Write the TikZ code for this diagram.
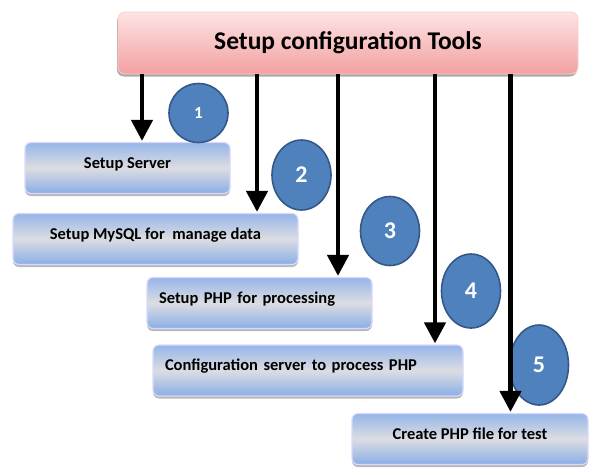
\documentclass[tikz,border=0pt]{standalone}
\usepackage{fontspec}
\setmainfont{Carlito}
\usetikzlibrary{arrows.meta,shapes.geometric,shadows}
\definecolor{boxtop}{RGB}{150,182,232}
\definecolor{boxmid}{RGB}{220,221,226}
\definecolor{boxbot}{RGB}{138,174,230}
\definecolor{tooltop}{RGB}{253,228,228}
\definecolor{toolbot}{RGB}{243,160,160}
\definecolor{numfill}{RGB}{79,129,189}
\definecolor{numedge}{RGB}{52,88,135}

\begin{document}
\begin{tikzpicture}[x=1pt,y=-1pt,
    toolbox/.style={rounded corners=7pt,draw=white!80!red,line width=.8pt,
      top color=tooltop,bottom color=toolbot,minimum width=460pt,minimum height=62pt,
      font=\bfseries\fontsize{25.5}{28}\selectfont,
      drop shadow={shadow xshift=-1pt,shadow yshift=-2.5pt,opacity=.55,fill=black!60}},
    stepbox/.style={rounded corners=6pt,draw=white!85!blue,line width=1.2pt,
      top color=boxtop,bottom color=boxbot,middle color=boxmid,
      minimum height=51pt,text height=12pt,text depth=12pt,
      font=\bfseries\fontsize{16.5}{19}\selectfont,
      drop shadow={shadow xshift=0pt,shadow yshift=-2.5pt,opacity=.5,fill=black!55}},
    leftbox/.style={stepbox,align=left,inner xsep=12pt},
    num/.style={ellipse,fill=numfill,draw=numedge,line width=1.6pt,minimum width=59pt,
      text=white,font=\bfseries\fontsize{24}{26}\selectfont},
    arr/.style={line width=4.5pt,-{Triangle[length=21pt,width=21pt]},shorten >=1pt}]

  \useasboundingbox (0,0) rectangle (589,467);

  \node[toolbox] (tools) at (348,43) {Setup configuration Tools};

  \node[stepbox,minimum width=205pt] (s1) at (127.5,168) {Setup Server};
  \node[stepbox,minimum width=285pt] (s2) at (155.5,239) {Setup MySQL for\ \ manage data};
  \node[leftbox,text width=201pt] (s3) at (259.5,303) {Setup PHP for processing};
  \node[leftbox,text width=286pt] (s4) at (308,370.5) {Configuration server to process PHP};
  \node[stepbox,minimum width=236pt] (s5) at (470,439) {Create PHP file for test};

  \node[num,minimum height=59pt,font=\bfseries\fontsize{17}{19}\selectfont] (n1) at (198.5,113) {1};
  \node[num,minimum height=70pt] (n2) at (301.5,175) {2};
  \node[num,minimum height=69pt] (n3) at (390,231) {3};
  \node[num,minimum height=74pt] (n4) at (471,291) {4};
  \node[num,minimum height=80pt] (n5) at (539,365) {5};

  % arrows from the tools box
  \coordinate (a1) at (142,0);
  \coordinate (a2) at (257,0);
  \coordinate (a3) at (338,0);
  \coordinate (a4) at (435,0);
  \coordinate (a5) at (510.5,0);
  \draw[arr] (tools.south -| a1) -- (s1.north -| a1);
  \draw[arr] (tools.south -| a2) -- (s2.north -| a2);
  \draw[arr] (tools.south -| a3) -- (s3.north -| a3);
  \draw[arr] (tools.south -| a4) -- (s4.north -| a4);
  \draw[arr] (tools.south -| a5) -- (s5.north -| a5);
\end{tikzpicture}
\end{document}
